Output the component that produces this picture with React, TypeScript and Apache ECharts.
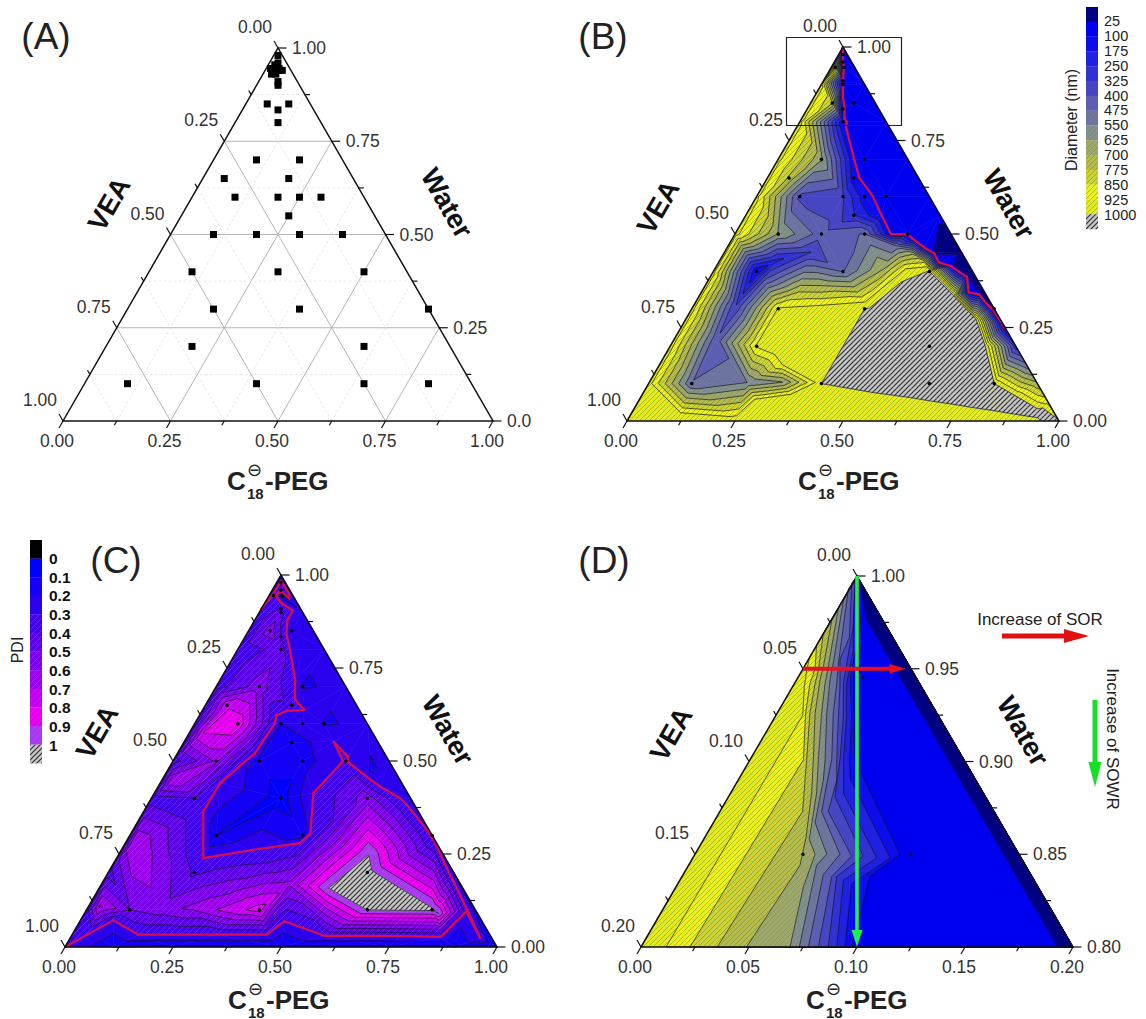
import React, { useEffect, useRef } from "react";
import * as echarts from "echarts";

// ---------- measured formulations (C18-PEG, VEA fractions; water is the rest) ----------
const formC18 = [.1,.4,.65,.8,.2,.6,.2,.4,.7,.1,.3,.5,.1,.2,.3,.4,.25,.1,.2,.25,.3,.05,.2,.1,.2,.1,.05,.1,.083,.05,.045,.03,.02,.01,.01];
const formVEA = [.8,.5,.25,.1,.6,.2,.5,.3,0,.5,.3,.1,.4,.3,.2,.1,.2,.3,.2,.15,.1,.3,.15,.2,.1,.1,.1,.05,.083,.05,.045,.025,.02,.01,.045];
const diameter = [480,1000,1400,1000,935,1500,935,1000,30,95,470,1005,620,440,480,90,260,380,330,130,60,760,130,640,70,105,780,70,105,95,100,90,100,100,950];
const pdi = [.5,.85,1.005,1.02,.38,1.05,.1,.15,.26,.4,.05,.55,.62,.15,.15,.31,.12,.88,.2,.28,.19,.78,.35,.55,.19,.45,.55,.2,.4,.45,.4,.15,.35,.35,.35];
const apexClusterC18 = [.02,.03,.04,.015,.025,.035,.03,.02];
const apexClusterVEA = [.04,.03,.02,.03,.03,.025,.04,.05];

// ---------- extra readings of the contour maps: [horizontal fraction, water, value] ----------
const diameterEdgeReadings = [
  [0,0,990],[.05,.1,960],[.1,.2,960],[.15,.3,960],[.2,.4,960],[.25,.5,960],[.3,.6,950],[.35,.7,950],[.4,.8,950],[.45,.9,950],[.5,1,60],
  [.55,.9,50],[.6,.8,50],[.65,.7,50],[.7,.6,40],[.725,.55,30],[.775,.45,8],[.8,.4,5],[.825,.35,10],[.875,.25,90],[.9,.2,280],[.925,.15,500],[.95,.1,720],[.975,.05,900],[1,0,1010],
  [.25,0,985],[.5,0,985],[.75,0,985],[.9,0,985],
];
const diameterInnerReadings = [
  [.714,.451,10],[.756,.415,25],[.816,.344,25],[.79,.39,12],[.84,.31,20],
  [.662,.487,100],[.688,.464,100],[.722,.424,100],[.791,.344,100],[.842,.304,100],[.872,.254,100],
  [.756,.335,1000],[.808,.272,1000],[.829,.201,1000],
  [.611,.5,100],[.62,.469,480],[.662,.446,700],[.688,.424,850],[.645,.406,930],[.551,.317,930],
  [.449,.308,930],[.449,.362,700],[.594,.406,700],[.397,.344,780],[.32,.375,420],
  [.205,.214,420],[.252,.308,330],[.346,.429,230],[.423,.451,320],
  [.526,.7,100],[.538,.65,100],[.568,.603,100],[.59,.549,100],
  [.65,.0636,1000],[.7,.054,1000],[.75,.0455,1000],[.8,.036,1000],[.852,.027,1000],[.95,.009,1000],[.57,.076,1000],
  [.9,.0667,1000],[.95,.033,1000],[.9,.0177,1000],[.9,.04,1200],[.95,.02,1100],[.75,.07,1300],
  [.5,.2,1000],[.475,.15,1000],[.55,.15,1250],[.6,.25,1250],
  [.38,.21,950],[.43,.165,950],[.346,.183,950],[.36,.15,925],
  [.359,.104,620],[.278,.103,550],[.436,.103,925],[.295,.058,925],[.124,.022,925],[.38,.071,930],
];
const pdiEdgeReadings = [
  [0,0,.3],[.05,.1,.35],[.1,.2,.35],[.15,.3,.35],[.2,.4,.35],[.25,.5,.35],[.3,.6,.35],[.35,.7,.35],[.4,.8,.32],[.45,.9,.32],[.5,1,.1],
  [.55,.9,.22],[.6,.8,.22],[.65,.7,.22],[.7,.6,.22],[.75,.5,.22],[.8,.4,.22],[.9,.2,.2],[.95,.1,.15],[1,0,.08],
  [.112,0,.1],[.25,0,.08],[.5,0,.08],[.75,0,.08],[.9,0,.08],
];
const pdiInnerReadings = [
  [.056,.036,.3],[.112,.0716,.3],[.17,.033,.3],[.25,.033,.3],[.35,.033,.3],[.467,.033,.3],[.6,.03,.3],[.7,.03,.3],[.776,.029,.3],[.87,.027,.3],[.961,.024,.3],[.93,.1,.31],[.857,.279,.3],[.838,.315,.3],[.73,.431,.3],[.622,.552,.3],
  [.515,.879,.3],[.521,.799,.3],[.533,.718,.3],[.554,.637,.3],[.514,.635,.3],[.49,.623,.3],[.359,.44,.3],[.32,.364,.3],[.32,.239,.3],[.429,.26,.3],[.544,.279,.3],[.568,.306,.3],[.575,.414,.3],
  [.081,.109,.72],[.158,.279,.7],[.251,.449,.7],[.32,.575,.8],
  [.71,.472,.19],[.61,.158,1],[.703,.248,1],[.865,.09,1],[.467,.226,.4],
  [.22,.1,.55],[.29,.105,.62],[.35,.1,.7],[.42,.1,.8],[.39,.163,.55],[.52,.17,.62],
];

// ---------- panel D: contour lines, [horizontal position, water] ----------
const zoomLine925 = [[.0116,.8],[.0628,.901],[.0749,.925],[.0756,.94],[.0767,.949],[.078,.956]];
const zoomLine850 = [[.0227,.8],[.0752,.901],[.0762,.926],[.0782,.942],[.0806,.95],[.0813,.963]];
const zoomLine775 = [[.0353,.8],[.0748,.873],[.0767,.901],[.0782,.926],[.0806,.942],[.0821,.949],[.0844,.969]];
const zoomLine700 = [[.0489,.8],[.0736,.844],[.0764,.859],[.079,.883],[.0798,.901],[.0806,.926],[.0829,.944],[.0844,.951],[.0883,.976]];
const zoomLine625 = [[.069,.8],[.0752,.8325],[.0806,.85],[.0779,.858],[.0813,.883],[.0821,.901],[.0836,.926],[.0852,.942],[.0867,.951],[.0914,.983]];
const zoomLine550 = [[.0733,.8],[.0813,.844],[.086,.85],[.0806,.867],[.0844,.89],[.0852,.901],[.086,.926],[.0875,.944],[.089,.953],[.0937,.987]];
const zoomLine475 = [[.0775,.8],[.0844,.839],[.0921,.85],[.0836,.873],[.0867,.892],[.0883,.901],[.089,.926],[.0906,.942],[.0914,.953],[.096,.993]];
const zoomLine400 = [[.0821,.8],[.0883,.838],[.0975,.849],[.0867,.873],[.0906,.89],[.0906,.901],[.0914,.924],[.0921,.94],[.0921,.955],[.0965,.967],[.0975,.996]];
const zoomLine325 = [[.0867,.8],[.0906,.838],[.1029,.849],[.0898,.881],[.0921,.901],[.0937,.924],[.0937,.942],[.096,.958],[.0983,.973],[.0991,.998]];
const zoomLine250 = [[.0906,.8],[.0937,.836],[.1091,.848],[.0937,.883],[.0937,.901],[.0952,.924],[.0952,.942],[.0983,.96],[.0983,.976],[.0994,.999]];
const zoomLine175 = [[.0944,.8],[.0975,.834],[.1153,.848],[.0968,.891],[.0965,.901],[.0975,.924],[.0968,.944],[.0998,.964],[.0998,.982],[.0998,.9995]];
const zoomLine100 = [[.0975,.8],[.106,.838],[.1199,.85],[.1006,.897],[.0991,.901],[.0983,.944],[.1022,.964],[.1014,.98],[.0998,.9995]];
const zoomLine25 = [[.1928,.8],[.1296,.926],[.1045,.976],[.1,1]];
const zoomDotsX = [.075,.125,.1026];
const zoomDotsWater = [.85,.85,.9456];

// ---------- colour scales and tick labels ----------
const diameterLevels = [25,100,175,250,325,400,475,550,625,700,775,850,925,1000];
const diameterColors = ["#000080","#0000f0","#0c0cec","#2020e0","#3232d2","#4646c2","#5c5eb2","#7074a0","#84908c","#a0a868","#b8bb48","#cfd230","#eef018","#e6ea18","#c6c6c6"];
const pdiLevels = [0,.1,.2,.3,.4,.5,.6,.7,.8,.9,1];
const pdiLabels = ["0","0.1","0.2","0.3","0.4","0.5","0.6","0.7","0.8","0.9","1"];
const pdiColors = ["#000000","#0000ff","#1400f6","#2a00ee","#4200e8","#5c00e6","#7a00e8","#9a00ea","#c000ec","#e400ec","#a838ee","#c6c6c6"];
const fullTicks = [0,.25,.5,.75,1];
const zoomTicks = [0,.05,.1,.15,.2];

const FONT = "'Liberation Sans', Arial, sans-serif";

function delaunay(p: number[][]) {
  const n = p.length;
  const P = [...p, [-2000, -2000], [2000, -2000], [0, 3000]];
  let tris: number[][] = [[n, n + 1, n + 2]];
  const inCirc = (t: number[], q: number[]) => {
    let [a, b, c] = t.map((i) => P[i]);
    const area = (b[0] - a[0]) * (c[1] - a[1]) - (b[1] - a[1]) * (c[0] - a[0]);
    if (area < 0) { const s = b; b = c; c = s; }
    const ax = a[0] - q[0], ay = a[1] - q[1], bx = b[0] - q[0], by = b[1] - q[1], cx = c[0] - q[0], cy = c[1] - q[1];
    return (ax * ax + ay * ay) * (bx * cy - cx * by) - (bx * bx + by * by) * (ax * cy - cx * ay) + (cx * cx + cy * cy) * (ax * by - bx * ay) > 1e-12;
  };
  for (let i = 0; i < n; i++) {
    const keep: number[][] = [];
    const edges = new Map<string, number[]>();
    for (const t of tris) {
      if (inCirc(t, P[i])) {
        for (const [u, v] of [[t[0], t[1]], [t[1], t[2]], [t[2], t[0]]]) {
          const k = u < v ? u + "_" + v : v + "_" + u;
          if (edges.has(k)) edges.set(k, []); else edges.set(k, [u, v]);
        }
      } else keep.push(t);
    }
    edges.forEach((e) => { if (e.length) keep.push([e[0], e[1], i]); });
    tris = keep;
  }
  return tris.filter((t) => t.every((i) => i < n));
}

type N = number[];
function clipAbove(poly: N[], L: number, sign: number) {
  const out: N[] = [];
  for (let i = 0; i < poly.length; i++) {
    const a = poly[i], b = poly[(i + 1) % poly.length];
    const ina = sign * (a[2] - L) >= 0, inb = sign * (b[2] - L) >= 0;
    if (ina) out.push(a);
    if (ina !== inb) {
      const t = (L - a[2]) / (b[2] - a[2]);
      out.push([a[0] + t * (b[0] - a[0]), a[1] + t * (b[1] - a[1]), L]);
    }
  }
  return out;
}

function buildContours(nodes: N[], levels: number[]) {
  const tris = delaunay(nodes.map((q) => [q[0], q[1] * 0.866]));
  const fills: { pts: N[]; band: number }[] = [];
  const lines: { a: N; b: N; level: number }[] = [];
  for (const t of tris) {
    const tri = t.map((i) => nodes[i]);
    for (let b = 0; b <= levels.length; b++) {
      let poly: N[] = tri;
      if (b > 0) poly = clipAbove(poly, levels[b - 1], 1);
      if (b < levels.length && poly.length) poly = clipAbove(poly, levels[b], -1);
      if (poly.length >= 3) fills.push({ pts: poly, band: b });
    }
    for (const L of levels) {
      const cross: N[] = [];
      for (let i = 0; i < 3; i++) {
        const a = tri[i], c = tri[(i + 1) % 3];
        if ((a[2] < L) !== (c[2] < L)) {
          const s = (L - a[2]) / (c[2] - a[2]);
          cross.push([a[0] + s * (c[0] - a[0]), a[1] + s * (c[1] - a[1])]);
        }
      }
      if (cross.length === 2) lines.push({ a: cross[0], b: cross[1], level: L });
    }
  }
  return { fills, lines };
}

function hatch(color: string, size = 5, width = 1) {
  const c = document.createElement("canvas");
  c.width = size; c.height = size;
  const g = c.getContext("2d")!;
  g.strokeStyle = color; g.lineWidth = width;
  for (const d of [-size, 0, size]) { g.beginPath(); g.moveTo(d - 1, size + 1); g.lineTo(d + size + 1, -1); g.stroke(); }
  return { image: c, repeat: "repeat" } as any;
}

export default function App() {
  const ref = useRef<HTMLDivElement>(null);
  useEffect(() => {
    document.body.style.margin = "0";
    const chart = echarts.init(ref.current!, undefined, { renderer: "svg" });

    const yellowHatch = hatch("rgba(60,125,90,.42)", 5, 1);
    const midHatch = hatch("rgba(70,120,110,.3)", 5, 1);
    const greyHatch = hatch("#333333", 5, 1.2);
    const pinkHatch = hatch("rgba(255,70,255,.3)", 6, 1);
    const diaHatch = (b: number) => (b === 14 ? greyHatch : b >= 10 ? yellowHatch : b >= 7 ? midHatch : null);
    const pdiHatch = (b: number) => (b === 11 ? greyHatch : b >= 4 ? pinkHatch : null);

    const grids = [
      { left: 63, top: 48, width: 430, height: 373 },
      { left: 627, top: 47, width: 432, height: 374 },
      { left: 65, top: 575, width: 432, height: 372 },
      { left: 641, top: 576, width: 432, height: 371 },
    ];
    const xAxis = grids.map((_, i) => {
      const z = i === 3;
      return {
        gridIndex: i, type: "value", min: 0, max: z ? 0.2 : 1, interval: z ? 0.05 : 0.25,
        axisLine: { show: false }, axisTick: { show: false }, splitLine: { show: false },
        axisLabel: { show: true, margin: 11, showMinLabel: true, showMaxLabel: true, hideOverlap: false, formatter: (v: number) => v.toFixed(2), color: "#333", fontSize: 17.5, fontFamily: FONT, padding: [0, 12, 0, 0] },
      };
    });
    const yAxis = grids.map((_, i) => ({ gridIndex: i, type: "value", min: i === 3 ? 0.8 : 0, max: 1, show: false }));

    const series: any[] = [];
    const base = { type: "custom", coordinateSystem: "cartesian2d", silent: true, clip: false, animation: false };
    const addShapes = (gi: number, items: any[], draw: (it: any, api: any) => any) => {
      series.push({ ...base, xAxisIndex: gi, yAxisIndex: gi, data: items.map(() => [0, 0.9]), renderItem: (p: any, api: any) => draw(items[p.dataIndex], api) });
    };

    const nodesFrom = (vals: number[], edge: number[][], inner: number[][]) => [
      ...formC18.map((c, i) => { const w = 1 - c - formVEA[i]; return [c + w / 2, w, vals[i]]; }),
      ...edge, ...inner,
    ];
    const drawContour = (gi: number, nodes: N[], levels: number[], colors: string[], hatchOf: (b: number) => any, red: number) => {
      const { fills, lines } = buildContours(nodes, levels);
      addShapes(gi, fills, (f, api) => ({ type: "polygon", shape: { points: f.pts.map((q: N) => api.coord([q[0], q[1]])) }, style: { fill: colors[f.band], stroke: colors[f.band], lineWidth: 0.6 } }));
      addShapes(gi, fills.filter((f) => hatchOf(f.band)), (f, api) => ({ type: "polygon", shape: { points: f.pts.map((q: N) => api.coord([q[0], q[1]])) }, style: { fill: hatchOf(f.band) } }));
      addShapes(gi, lines.filter((l) => l.level !== red), (l, api) => {
        const a = api.coord(l.a), b = api.coord(l.b);
        return { type: "line", shape: { x1: a[0], y1: a[1], x2: b[0], y2: b[1] }, style: { stroke: "rgba(15,15,35,.85)", lineWidth: 0.8 } };
      });
      addShapes(gi, lines.filter((l) => l.level === red), (l, api) => {
        const a = api.coord(l.a), b = api.coord(l.b);
        return { type: "line", shape: { x1: a[0], y1: a[1], x2: b[0], y2: b[1] }, style: { stroke: "#d8104a", lineWidth: 2.2, lineCap: "round" } };
      });
    };

    // panel A grid lines
    const gridLines: any[] = [];
    [0.125, 0.25, 0.375, 0.5, 0.625, 0.75, 0.875].forEach((t, i) => {
      const major = i % 2 === 1;
      gridLines.push({ a: [t / 2, t], b: [1 - t / 2, t], major });
      gridLines.push({ a: [t, 0], b: [(1 + t) / 2, 1 - t], major });
      gridLines.push({ a: [t, 0], b: [t / 2, t], major });
    });
    addShapes(0, gridLines, (l, api) => {
      const a = api.coord(l.a), b = api.coord(l.b);
      return { type: "line", shape: { x1: a[0], y1: a[1], x2: b[0], y2: b[1] }, style: { stroke: l.major ? "#b4b4b4" : "#e8e8e8", lineWidth: 1, lineDash: l.major ? null : [3, 2] } };
    });

    // panels B, C
    drawContour(1, nodesFrom(diameter, diameterEdgeReadings, diameterInnerReadings), diameterLevels, diameterColors, diaHatch, 100);
    drawContour(2, nodesFrom(pdi, pdiEdgeReadings, pdiInnerReadings), pdiLevels, pdiColors, pdiHatch, 0.3);

    // panel D: painted from the yellow side to the blue side
    const zoomLines = [zoomLine925, zoomLine850, zoomLine775, zoomLine700, zoomLine625, zoomLine550, zoomLine475, zoomLine400, zoomLine325, zoomLine250, zoomLine175, zoomLine100];
    const zoomBands = zoomLines.map((pts, i) => ({ pts: [...pts, [0.1, 1], [0.2, 0.8]], band: 12 - i }));
    const triZoom = { pts: [[0, 0.8], [0.1, 1], [0.2, 0.8]], band: 13 };
    const navy = { pts: [...zoomLine25, [0.2, 0.8]], band: 0 };
    const painted = [triZoom, ...zoomBands, navy];
    painted.forEach((f) => {
      const h = diaHatch(f.band);
      addShapes(3, [f], (it, api) => ({ type: "polygon", shape: { points: it.pts.map((q: N) => api.coord(q)) }, style: { fill: diameterColors[it.band], stroke: "rgba(15,15,35,.8)", lineWidth: f.band === 0 || f.band === 13 ? 0 : 0.8 } }));
      if (h) {
        // hatch only this band: its polygon is covered by the next one painted above it
        addShapes(3, [f], (it, api) => ({ type: "polygon", shape: { points: it.pts.map((q: N) => api.coord(q)) }, style: { fill: h } }));
      }
    });

    // frames and ticks
    grids.forEach((_, gi) => {
      const z = gi === 3;
      const sx = z ? 0.2 : 1, w0 = z ? 0.8 : 0, sw = z ? 0.2 : 1;
      const P = (fx: number, fy: number) => [fx * sx, w0 + fy * sw];
      addShapes(gi, [0], (_i, api) => ({ type: "polygon", shape: { points: [P(0, 0), P(0.5, 1), P(1, 0)].map((q) => api.coord(q)) }, style: { fill: "none", stroke: "#111", lineWidth: 1.5 } }));
      const ticks: any[] = [];
      for (let k = 0; k <= 8; k++) {
        const t = k / 8, L = k % 2 === 0 ? 1 : 0.6;
        ticks.push({ p: P(t, 0), d: [-4 * L, 7 * L] });
        ticks.push({ p: P(1 - t / 2, t), d: [8.5 * L, 0] });
        ticks.push({ p: P(t / 2, t), d: [-4 * L, -7 * L] });
      }
      addShapes(gi, ticks, (it, api) => {
        const a = api.coord(it.p);
        return { type: "line", shape: { x1: a[0], y1: a[1], x2: a[0] + it.d[0], y2: a[1] + it.d[1] }, style: { stroke: "#111", lineWidth: 1.2 } };
      });
      const vals = z ? zoomTicks : fullTicks;
      const labs: any[] = [];
      vals.forEach((v, i) => {
        const t = i / 4;
        let rightText = (z ? 0.8 + v : v).toFixed(2);
        if (gi === 0 && i === 0) rightText = "0.0";
        labs.push({ p: P(1 - t / 2, t), text: rightText, dx: 14, dy: 0, align: "left" });
        labs.push({ p: P(t / 2, t), text: (z ? 0.2 - v : 1 - v).toFixed(2), dx: -23, dy: -21, align: "center" });
      });
      addShapes(gi, labs, (it, api) => {
        const a = api.coord(it.p);
        return { type: "text", x: a[0] + it.dx, y: a[1] + it.dy, style: { text: it.text, fontSize: 17.5, fontFamily: FONT, fill: "#333", align: it.align, verticalAlign: "middle" } };
      });
    });

    // points
    const toXY = formC18.map((c, i) => { const w = 1 - c - formVEA[i]; return [c + w / 2, w]; });
    const clusterXY = apexClusterC18.map((c, i) => { const w = 1 - c - apexClusterVEA[i]; return [c + w / 2, w]; });
    series.push({ type: "scatter", xAxisIndex: 0, yAxisIndex: 0, data: [...toXY, ...clusterXY], symbol: "rect", symbolSize: 7, itemStyle: { color: "#000", opacity: 1 }, silent: true });
    [1, 2].forEach((gi) => series.push({ type: "scatter", xAxisIndex: gi, yAxisIndex: gi, data: toXY, symbol: "circle", symbolSize: 3.5, itemStyle: { color: "#000", opacity: 1 }, silent: true }));
    series.push({ type: "scatter", xAxisIndex: 3, yAxisIndex: 3, data: zoomDotsX.map((x, i) => [x, zoomDotsWater[i]]), symbol: "circle", symbolSize: 3.5, itemStyle: { color: "#10103a", opacity: 1 }, silent: true });

    // arrows in panel D
    const arrow = (gi: number, from: number[], to: number[], color: string, shaft: number, headL: number, headW: number) => {
      addShapes(gi, [0], (_i, api) => {
        const a = api.coord(from), b = api.coord(to);
        const L = Math.hypot(b[0] - a[0], b[1] - a[1]), ux = (b[0] - a[0]) / L, uy = (b[1] - a[1]) / L, nx = -uy, ny = ux;
        const s = shaft / 2, hx = b[0] - ux * headL, hy = b[1] - uy * headL;
        return { type: "polygon", shape: { points: [[a[0] + nx * s, a[1] + ny * s], [hx + nx * s, hy + ny * s], [hx + nx * headW, hy + ny * headW], b, [hx - nx * headW, hy - ny * headW], [hx - nx * s, hy - ny * s], [a[0] - nx * s, a[1] - ny * s]] }, style: { fill: color } };
      });
    };
    arrow(3, [0.1, 1], [0.1, 0.8], "#1cf04c", 3.6, 17, 5.5);
    arrow(3, [0.075, 0.95], [0.1225, 0.95], "#e81020", 4, 16, 4.8);

    // ---------- texts, colour bars ----------
    const gfx: any[] = [];
    const txt = (text: string, x: number, y: number, fontSize: number, o: any = {}) => gfx.push({
      type: "text", x, y, rotation: o.rotation || 0, z: 50, silent: true,
      style: { text, fontSize, fontFamily: o.family || FONT, fontWeight: o.weight || "normal", fill: o.fill || "#222", align: o.align || "center", verticalAlign: "middle" },
    });
    ([["(A)", 46, 36], ["(B)", 603, 36], ["(C)", 116, 560], ["(D)", 604, 560]] as [string, number, number][]).forEach(([t, x, y]) => txt(t, x, y, 37));
    ([[109, 204, 447, 203], [658, 207, 1009, 204], [97, 732, 448, 730], [671, 734, 1023, 731]]).forEach(([a, b, c, d]) => {
      txt("VEA", a, b, 27.5, { weight: "bold", rotation: Math.PI / 3, fill: "#111" });
      txt("Water", c, d, 27.5, { weight: "bold", rotation: -Math.PI / 3, fill: "#111" });
    });
    ([[227, 481], [798, 481], [228, 1000], [806, 1000]]).forEach(([x, y]) => {
      const o = { weight: "bold", align: "left", fill: "#222" };
      txt("C", x, y, 26, o);
      txt("18", x + 20, y + 12, 15, o);
      txt("\u2296", x + 20, y - 12, 18, { align: "left", family: "'DejaVu Sans'", fill: "#222" });
      txt("-PEG", x + 38, y, 26, o);
    });
    gfx.push({ type: "rect", z: 40, silent: true, shape: { x: 786.5, y: 37.5, width: 115, height: 88 }, style: { fill: "none", stroke: "#222", lineWidth: 1.2 } });

    const rectBar = (x: number, y: number, w: number, h: number, fill: any) => gfx.push({ type: "rect", z: 40, silent: true, shape: { x, y, width: w, height: h }, style: { fill } });
    diameterColors.forEach((c, i) => {
      rectBar(1086, 7 + i * 14.8, 12, 15, c);
      const h = diaHatch(i);
      if (h) rectBar(1086, 7 + i * 14.8, 12, 15, h);
    });
    diameterLevels.forEach((v, i) => txt(String(v), 1104, 21 + i * 14.9, 14.5, { align: "left", fill: "#222" }));
    txt("Diameter (nm)", 1071, 120, 16, { rotation: Math.PI / 2, fill: "#222" });

    pdiColors.forEach((c, i) => {
      rectBar(30, 540 + i * 18.6, 12, 18.8, c);
      const h = pdiHatch(i);
      if (h) rectBar(30, 540 + i * 18.6, 12, 18.8, h);
    });
    pdiLabels.forEach((t, i) => txt(t, 49, 558.7 + i * 18.63, 15.5, { align: "left", weight: "bold", fill: "#111" }));
    txt("PDI", 17, 650, 16, { rotation: Math.PI / 2, fill: "#222" });

    txt("Increase of SOR", 1040, 619, 17, { fill: "#222" });
    txt("Increase of SOWR", 1112, 739, 17, { rotation: -Math.PI / 2, fill: "#222" });
    gfx.push({ type: "polygon", z: 40, silent: true, shape: { points: [[1002, 633.5], [1064, 633.5], [1064, 629], [1089, 636], [1064, 643], [1064, 638.5], [1002, 638.5]] }, style: { fill: "#e01010" } });
    gfx.push({ type: "polygon", z: 40, silent: true, shape: { points: [[1092.5, 700], [1097.5, 700], [1097.5, 762], [1101.5, 762], [1095, 787], [1088.5, 762], [1092.5, 762]] }, style: { fill: "#14e024" } });

    chart.setOption({ animation: false, backgroundColor: "#fff", grid: grids, xAxis, yAxis, series, graphic: gfx });
    return () => chart.dispose();
  }, []);
  return <div ref={ref} style={{ position: "absolute", left: 0, top: 0, width: 1146, height: 1019 }} />;
}
